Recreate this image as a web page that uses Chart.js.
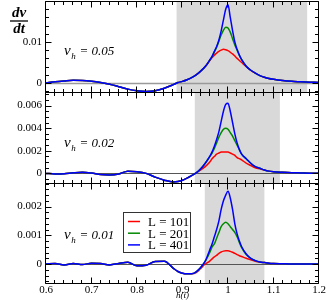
<!DOCTYPE html>
<html>
<head>
<meta charset="utf-8">
<script src="https://cdn.jsdelivr.net/npm/chart.js@4.4.0/dist/chart.umd.min.js"></script>
<style>
  html, body { margin: 0; padding: 0; background: #fff; }
  #wrap { position: relative; width: 327px; height: 300px; }
  #wrap canvas { position: absolute; left: 0; top: 0; }
</style>
</head>
<body>
<div id="wrap">
  <canvas id="panel0" width="327" height="300"></canvas>
  <canvas id="panel1" width="327" height="300"></canvas>
  <canvas id="panel2" width="327" height="300"></canvas>
</div>
<script>
Chart.defaults.font.family = "'Liberation Serif', 'Times New Roman', serif";
Chart.defaults.color = '#000';

// h(t) sample points, shared by every curve
const hGrid = [0.6, 0.62, 0.64, 0.66, 0.68, 0.70, 0.72, 0.74, 0.76, 0.78, 0.80, 0.82, 0.84, 0.86, 0.88,
  0.89, 0.90, 0.91, 0.92, 0.93, 0.94, 0.95, 0.96,
  0.965, 0.97, 0.975, 0.98, 0.985, 0.99, 0.995, 1.0, 1.005, 1.01, 1.015, 1.02, 1.025, 1.03,
  1.04, 1.05, 1.06, 1.07, 1.08, 1.09, 1.10,
  1.12, 1.14, 1.16, 1.18, 1.20];

// v_h = 0.05
const red05 = [0, 0.0003, 0.0005, 0.00065, 0.0006, 0.0004, 0.0001, -0.0003, -0.0009, -0.0015, -0.0019, -0.0021, -0.0019, -0.0013, -0.0004,
  0.0001, 0.0004, 0.0008, 0.0013, 0.0020, 0.0029, 0.0040, 0.0055,
  0.0062, 0.0068, 0.0073, 0.0077, 0.0080, 0.0082, 0.0081, 0.0079, 0.0075, 0.0071, 0.0066, 0.0060, 0.0055, 0.0050,
  0.0040, 0.0031, 0.0024, 0.0018, 0.0014, 0.0011, 0.0009,
  0.0006, 0.0004, 0.0003, 0.0002, 0.0001];
const green05 = [0, 0.0003, 0.0005, 0.00065, 0.0006, 0.0004, 0.0001, -0.0003, -0.0009, -0.0015, -0.0019, -0.0021, -0.0019, -0.0013, -0.0004,
  0.0001, 0.0004, 0.0008, 0.0013, 0.0020, 0.0029, 0.0040, 0.0056,
  0.0064, 0.0076, 0.0087, 0.0102, 0.0117, 0.0129, 0.0136, 0.0134, 0.0124, 0.0108, 0.0093, 0.0080, 0.0067, 0.0057,
  0.0041, 0.0031, 0.0024, 0.0018, 0.0014, 0.0011, 0.0009,
  0.0006, 0.0004, 0.0003, 0.0002, 0.0001];
const blue05 = [0, 0.0003, 0.0005, 0.00065, 0.0006, 0.0004, 0.0001, -0.0003, -0.0009, -0.0015, -0.0019, -0.0021, -0.0019, -0.0013, -0.0004,
  0.0001, 0.0004, 0.0008, 0.0013, 0.0020, 0.0029, 0.0040, 0.0056,
  0.0065, 0.0077, 0.0089, 0.0105, 0.0127, 0.0154, 0.0180, 0.0191, 0.0160, 0.0128, 0.0100, 0.0082, 0.0068, 0.0057,
  0.0041, 0.0031, 0.0024, 0.0018, 0.0014, 0.0011, 0.0009,
  0.0006, 0.0004, 0.0003, 0.0002, 0.0001];

// v_h = 0.02
const red02 = [0, -0.00005, -0.00003, 0.00005, 0.0001, 0.00003, -0.0001, -0.00014, -0.00005, 0.0002, 0.00015, 0.0, -0.00033, -0.0006, -0.00076,
  -0.00072, -0.0006, -0.00042, -0.0002, 0.00004, 0.0003, 0.0006, 0.0010,
  0.0013, 0.0015, 0.0017, 0.0018, 0.0019, 0.0019, 0.0019, 0.0019, 0.0018, 0.0017, 0.0016, 0.0014, 0.0013, 0.0012,
  0.0009, 0.0007, 0.0005, 0.0004, 0.0003, 0.0002, 0.00015,
  0.0001, 0.00006, 0.00004, 0.00002, 0.00001];
const green02 = [0, -0.00005, -0.00003, 0.00005, 0.0001, 0.00003, -0.0001, -0.00014, -0.00005, 0.0002, 0.00015, 0.0, -0.00033, -0.0006, -0.00076,
  -0.00072, -0.0006, -0.00042, -0.0002, 0.00005, 0.0004, 0.0009, 0.0015,
  0.0018, 0.0022, 0.0027, 0.0032, 0.0036, 0.0039, 0.0040, 0.0039, 0.0036, 0.0033, 0.0029, 0.0025, 0.0021, 0.0017,
  0.0013, 0.0009, 0.0006, 0.00045, 0.0003, 0.0002, 0.00015,
  0.0001, 0.00006, 0.00004, 0.00002, 0.00001];
const blue02 = [0, -0.00005, -0.00003, 0.00005, 0.0001, 0.00003, -0.0001, -0.00014, -0.00005, 0.0002, 0.00015, 0.0, -0.00033, -0.0006, -0.00076,
  -0.00072, -0.0006, -0.00042, -0.0002, 0.00005, 0.0004, 0.0009, 0.0015,
  0.0019, 0.0024, 0.0030, 0.0037, 0.0046, 0.0055, 0.0061, 0.0062, 0.0055, 0.0045, 0.0035, 0.0027, 0.0021, 0.0017,
  0.0013, 0.0009, 0.0006, 0.00045, 0.0003, 0.0002, 0.00015,
  0.0001, 0.00006, 0.00004, 0.00002, 0.00001];

// v_h = 0.01
const red01 = [0, 0.00002, -0.00003, 0.00002, -0.00002, 0.00003, 0.00002, -0.00003, 0.00002, 0.00006, -0.00006, -0.00004, 0.00009, 0.0001, -0.00015,
  -0.00026, -0.00032, -0.00034, -0.00034, -0.0003, -0.00015, 0.0, 0.0001,
  0.00018, 0.00025, 0.0003, 0.00037, 0.00042, 0.00045, 0.00046, 0.00046, 0.00044, 0.00041, 0.00037, 0.00033, 0.00029, 0.00026,
  0.0002, 0.00015, 0.0001, 0.00007, 0.00005, 0.00003, 0.00002,
  0.00001, 0, 0, 0, 0];
const green01 = [0, 0.00002, -0.00003, 0.00002, -0.00002, 0.00003, 0.00002, -0.00003, 0.00002, 0.00006, -0.00006, -0.00004, 0.00009, 0.0001, -0.00015,
  -0.00026, -0.00032, -0.00034, -0.00034, -0.00027, -0.00012, 0.0001, 0.0004,
  0.0006, 0.0007, 0.0009, 0.0011, 0.0013, 0.0014, 0.00145, 0.0014, 0.0013, 0.0012, 0.0011, 0.00095, 0.00075, 0.00057,
  0.00033, 0.0002, 0.00012, 0.00007, 0.00005, 0.00003, 0.00002,
  0.00001, 0, 0, 0, 0];
const blue01 = [0, 0.00002, -0.00003, 0.00002, -0.00002, 0.00003, 0.00002, -0.00003, 0.00002, 0.00006, -0.00006, -0.00004, 0.00009, 0.0001, -0.00015,
  -0.00026, -0.00032, -0.00034, -0.00034, -0.00027, -0.00012, 0.0001, 0.0005,
  0.0007, 0.00095, 0.0012, 0.0015, 0.0019, 0.0022, 0.0024, 0.00253, 0.0023, 0.0019, 0.0014, 0.00105, 0.0008, 0.0006,
  0.00035, 0.0002, 0.00012, 0.00007, 0.00005, 0.00003, 0.00002,
  0.00001, 0, 0, 0, 0];

const seriesLabels = ['L = 101', 'L = 201', 'L = 401'];
const seriesColors = ['#ff0000', '#008a00', '#0000ff'];
const speedLabels = ['0.05', '0.02', '0.01'];
const panelSeries = [[red05, green05, blue05], [red02, green02, blue02], [red01, green01, blue01]];

// shaded region per panel, in h(t)
const bandLo = [0.887, 0.927, 0.949];
const bandHi = [1.174, 1.114, 1.08];

const yMin = [-0.0022, -0.00085, -0.00066];
const yMax = [0.02, 0.0072, 0.00282];
const yTickLabels = [[0, 0.01], [0, 0.002, 0.004, 0.006], [0, 0.001, 0.002]];
const yMinorStep = [0.002, 0.0005, 0.0002];
const xTickLabels = [0.6, 0.7, 0.8, 0.9, 1.0, 1.1, 1.2];
const xMinorStep = 0.02;

const panelTop = [1, 92, 183];
const panelBottom = [92, 183, 283];

function drawSpeed(ctx, x, yBase, val) {
  ctx.fillStyle = '#000';
  ctx.textAlign = 'left';
  ctx.textBaseline = 'alphabetic';
  ctx.font = "italic 15px 'Liberation Serif'";
  ctx.fillText('v', x, yBase);
  const w = ctx.measureText('v').width;
  ctx.font = "italic 9px 'Liberation Serif'";
  ctx.fillText('h', x + w + 0.5, yBase + 4);
  const w2 = ctx.measureText('h').width;
  ctx.font = "italic 13px 'Liberation Serif'";
  ctx.fillText(' = ' + val, x + w + w2 + 1, yBase);
}

const panelDecor = {
  id: 'panelDecor',
  beforeDatasetsDraw(chart, args, opts) {
    const i = opts.index;
    const { ctx, chartArea: a, scales: { x, y } } = chart;
    ctx.save();
    const x0 = x.getPixelForValue(bandLo[i]);
    const x1 = x.getPixelForValue(bandHi[i]);
    ctx.fillStyle = '#d9d9d9';
    ctx.fillRect(x0, a.top, x1 - x0, a.bottom - a.top);
    const y0 = Math.round(y.getPixelForValue(0)) + 0.5;
    ctx.strokeStyle = i === 0 ? '#9a9a9a' : '#555';
    ctx.lineWidth = i === 0 ? 1.5 : 1;
    ctx.beginPath();
    ctx.moveTo(a.left, y0);
    ctx.lineTo(a.right, y0);
    ctx.stroke();
    ctx.restore();
  },
  afterDatasetsDraw(chart, args, opts) {
    const i = opts.index;
    const { ctx, chartArea: a, scales: { x, y } } = chart;
    const L = Math.round(a.left) - 0.5, R = Math.round(a.right) - 0.5;
    const T = Math.round(a.top) + 0.5, B = Math.round(a.bottom) + 0.5;
    ctx.save();
    ctx.strokeStyle = '#000';
    ctx.lineWidth = 1;
    ctx.beginPath();
    ctx.rect(L, T, R - L, B - T);
    // x ticks, top and bottom, pointing in
    const nx = Math.round((1.2 - 0.6) / xMinorStep);
    for (let k = 0; k <= nx; k++) {
      const v = 0.6 + k * xMinorStep;
      const len = k % 5 === 0 ? 6 : 3.5;
      const px = Math.round(x.getPixelForValue(v)) - 0.5;
      ctx.moveTo(px, T); ctx.lineTo(px, T + len);
      ctx.moveTo(px, B); ctx.lineTo(px, B - len);
    }
    // y ticks, left and right
    const st = yMinorStep[i];
    for (let k = Math.ceil(yMin[i] / st); k <= Math.floor(yMax[i] / st + 1e-6); k++) {
      const v = k * st;
      const major = yTickLabels[i].some(t => Math.abs(t - v) < st / 10);
      const len = major ? 6 : 3.5;
      const py = Math.round(y.getPixelForValue(v)) + 0.5;
      ctx.moveTo(L, py); ctx.lineTo(L + len, py);
      ctx.moveTo(R, py); ctx.lineTo(R - len, py);
    }
    ctx.stroke();
    ctx.restore();
  },
  afterDraw(chart, args, opts) {
    const i = opts.index;
    const ctx = chart.ctx;
    ctx.save();
    drawSpeed(ctx, 64, [55, 147, 239][i], speedLabels[i]);
    if (i === 0) {
      ctx.font = "bold italic 15px 'Liberation Serif'";
      ctx.textAlign = 'center';
      ctx.fillText('dν', 19, 17);
      ctx.fillText('dt', 19, 33);
      ctx.lineWidth = 1.3;
      ctx.beginPath();
      ctx.moveTo(10, 21); ctx.lineTo(28, 21);
      ctx.stroke();
    }
    if (i === 2) {
      // legend box
      ctx.fillStyle = '#fff';
      ctx.fillRect(123.5, 212.5, 67, 40);
      ctx.strokeStyle = '#333';
      ctx.lineWidth = 1;
      ctx.strokeRect(123.5, 212.5, 67, 40);
      ctx.font = "13px 'Liberation Serif'";
      ctx.textAlign = 'left';
      chart.data.datasets.forEach((ds, j) => {
        const ry = 221.5 + j * 11.7;
        ctx.strokeStyle = ds.borderColor;
        ctx.lineWidth = 1.5;
        ctx.beginPath();
        ctx.moveTo(128, ry); ctx.lineTo(140, ry);
        ctx.stroke();
        ctx.fillStyle = '#000';
        ctx.fillText(ds.label, 148, ry + 4.5);
      });
    }
    ctx.restore();
  }
};

for (let i = 0; i < 3; i++) {
  const isBottom = i === 2;
  new Chart(document.getElementById('panel' + i), {
    type: 'line',
    data: {
      datasets: panelSeries[i].map((vals, j) => ({
        label: seriesLabels[j],
        data: hGrid.map((h, n) => ({ x: h, y: vals[n] })),
        borderColor: seriesColors[j],
        borderWidth: 1.5,
        pointRadius: 0,
        fill: false,
        cubicInterpolationMode: 'monotone',
        order: 3 - j
      }))
    },
    options: {
      responsive: false,
      animation: false,
      events: [],
      layout: { padding: { top: panelTop[i], bottom: isBottom ? 0 : 300 - panelBottom[i], left: 0, right: 8 } },
      plugins: {
        legend: { display: false },
        tooltip: { enabled: false },
        panelDecor: { index: i }
      },
      scales: {
        x: {
          type: 'linear',
          min: 0.6,
          max: 1.2,
          display: isBottom,
          grid: { display: false, drawTicks: false },
          border: { display: false },
          afterBuildTicks: s => { s.ticks = xTickLabels.map(v => ({ value: v })); },
          afterFit: s => {
            if (isBottom) s.height = 17;
            s.paddingLeft = 0; s.paddingRight = 0;
          },
          ticks: {
            maxRotation: 0,
            padding: 1,
            font: { size: 11 },
            callback: v => String(Number(v.toFixed(2)))
          },
          title: {
            display: true,
            text: 'h(t)',
            padding: 0,
            font: { size: 9, style: 'italic', lineHeight: 0.9 }
          }
        },
        y: {
          min: yMin[i],
          max: yMax[i],
          grid: { display: false, drawTicks: false },
          border: { display: false },
          afterBuildTicks: s => { s.ticks = yTickLabels[i].map(v => ({ value: v })); },
          afterFit: s => { s.width = 46; s.paddingTop = 0; s.paddingBottom = 0; },
          ticks: {
            padding: 4,
            font: { size: 11 },
            callback: v => String(v)
          }
        }
      }
    },
    plugins: [panelDecor]
  });
}
</script>
</body>
</html>
